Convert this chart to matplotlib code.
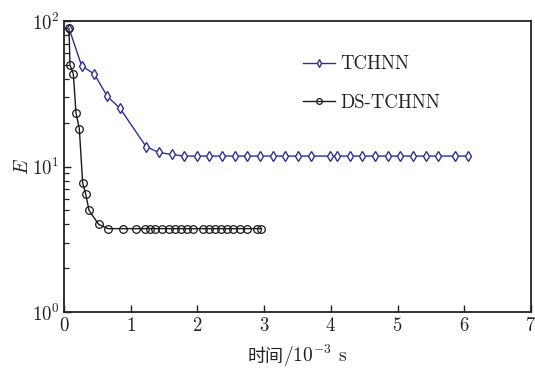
import matplotlib
matplotlib.use("Agg")
import matplotlib.pyplot as plt
from matplotlib.offsetbox import TextArea, HPacker, AnchoredOffsetbox
from matplotlib.ticker import LogLocator, NullFormatter
import numpy as np

plt.rcParams['mathtext.fontset'] = 'cm'
plt.rcParams['font.family'] = ['cmr10', 'Noto Sans CJK SC', 'DejaVu Sans']
plt.rcParams['axes.formatter.use_mathtext'] = True

tchnn_t = [0.08, 0.265, 0.455, 0.65, 0.84, 1.23, 1.42, 1.615, 1.80, 1.99, 2.18, 2.37,
           2.56, 2.75, 2.94, 3.13, 3.32, 3.51, 3.70, 3.99, 4.09, 4.28, 4.47, 4.66,
           4.85, 5.04, 5.23, 5.42, 5.61, 5.86, 6.06]
tchnn_e = [87.7, 49.2, 43.2, 30.3, 25.1, 13.7, 12.5, 12.1, 11.8, 11.8, 11.8, 11.8,
           11.8, 11.8, 11.8, 11.8, 11.8, 11.8, 11.8, 11.8, 11.8, 11.8, 11.8, 11.8,
           11.8, 11.8, 11.8, 11.8, 11.8, 11.8, 11.8]

ds_t = [0.075, 0.09, 0.14, 0.18, 0.23, 0.28, 0.325, 0.375, 0.52, 0.66, 0.89, 1.08,
        1.22, 1.29, 1.37, 1.47, 1.57, 1.67, 1.76, 1.85, 1.94, 2.09, 2.17, 2.26,
        2.35, 2.44, 2.54, 2.64, 2.74, 2.89, 2.96]
ds_e = [89.0, 49.8, 43.2, 23.5, 18.1, 7.7, 6.5, 5.0, 4.0, 3.74, 3.74, 3.74,
        3.74, 3.74, 3.74, 3.74, 3.74, 3.74, 3.74, 3.74, 3.74, 3.74, 3.74, 3.74,
        3.74, 3.74, 3.74, 3.74, 3.74, 3.74, 3.74]

TXT = '#222222'
fig = plt.figure(figsize=(5.35, 3.72), dpi=100)
ax = fig.add_axes([0.1196, 0.1613, 0.8729, 0.7822])

ax.plot(tchnn_t, tchnn_e, color='#2e3192', lw=1.0, marker='d', ms=5.5,
        mfc='white', mec='#2e3192', mew=1.0, label='TCHNN')
ax.plot(ds_t, ds_e, color='#1a1a1a', lw=1.0, marker='o', ms=5.5,
        mfc='none', mec='#1a1a1a', mew=0.9, label='DS-TCHNN')

ax.set_yscale('log')
ax.set_xlim(0, 7)
ax.set_ylim(1, 100)
ax.set_xticks(range(0, 8))
ax.yaxis.set_minor_locator(LogLocator(base=10, subs=tuple(range(2, 10)), numticks=20))
ax.yaxis.set_minor_formatter(NullFormatter())
ax.tick_params(axis='both', which='both', direction='in', top=False, right=False,
               labelsize=13.5, colors=TXT, width=1.0)
ax.tick_params(axis='both', which='major', length=5)
ax.tick_params(axis='y', which='minor', length=3.5, width=0.9)
for s in ax.spines.values():
    s.set_linewidth(1.3)
    s.set_color(TXT)

ax.set_ylabel('$E$', fontsize=14, color=TXT, labelpad=0)

# x label: Chinese part + math part
ta1 = TextArea('时间', textprops=dict(family='Noto Sans CJK SC', fontsize=13, color=TXT))
ta2 = TextArea('/$10^{-3}$ s', textprops=dict(fontsize=14, color=TXT))
pack = HPacker(children=[ta1, ta2], align='baseline', pad=0, sep=0)
ab = AnchoredOffsetbox(loc='upper center', child=pack, pad=0, frameon=False,
                       bbox_to_anchor=(0.5, -0.105), bbox_transform=ax.transAxes,
                       borderpad=0)
ax.add_artist(ab)

leg = ax.legend(loc='upper left', bbox_to_anchor=(0.475, 0.94), frameon=False,
                fontsize=13.5, handlelength=1.7, handletextpad=0.3, labelspacing=1.1,
                markerscale=0.75)
for t in leg.get_texts():
    t.set_color(TXT)

fig.savefig('out.png', dpi=100)
